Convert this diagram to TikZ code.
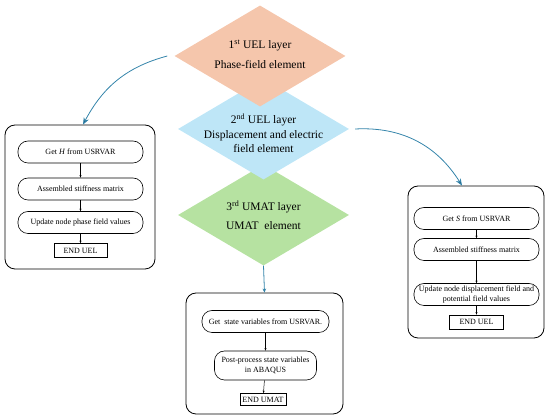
\documentclass[tikz,border=0pt]{standalone}
\usepackage{fontspec}
\setmainfont{Liberation Serif}
\usetikzlibrary{arrows.meta,positioning,shapes.geometric}
\definecolor{layerorange}{RGB}{245,198,172}
\definecolor{layerblue}{RGB}{190,230,247}
\definecolor{layergreen}{RGB}{182,226,161}
\definecolor{linkblue}{RGB}{52,132,170}
\definecolor{tipblue}{RGB}{22,84,124}
\newcommand{\bigtxt}{\fontsize{11.5}{14.5}\selectfont}
\newcommand{\smalltxt}{\fontsize{8}{9.5}\selectfont}

\begin{document}
\begin{tikzpicture}[x=1pt,y=-1pt,
    layer/.style={diamond,draw=none,minimum width=171pt,minimum height=101pt,inner sep=0pt},
    ltext/.style={align=center,font=\bigtxt,inner sep=0pt},
    frame/.style={rectangle,draw,rounded corners=10pt,line width=0.8pt},
    stage/.style={rectangle,draw,rounded corners=10pt,minimum width=125pt,minimum height=22pt,
      align=center,font=\smalltxt,inner sep=1pt,line width=0.6pt},
    stopbox/.style={rectangle,draw,minimum height=14pt,font=\smalltxt,inner sep=1pt,line width=0.7pt},
    a/.style={-{Stealth[length=2.5pt,width=2pt]},line width=0.5pt},
    link/.style={linkblue,line width=0.8pt,-{Stealth[length=7pt,width=5.5pt,fill=tipblue]}}]
    \useasboundingbox (0,0) rectangle (550,419);
    % the three layers (drawn bottom up so they overlap)
    \node[layer,fill=layergreen] (umat) at (263.5,215) {};
    \node[layer,fill=layerblue] (uelB) at (263.5,129) {};
    \node[layer,fill=layerorange] (uelA) at (260,56) {};
    \node[ltext] (uelAtxt) at (260,54) {1\textsuperscript{st} UEL layer\\[5pt] Phase-field element};
    \node[ltext] (uelBtxt) at (263.5,133.5) {2\textsuperscript{nd} UEL layer\\ Displacement and electric\\ field element};
    \node[ltext] (umattxt) at (263.5,215) {3\textsuperscript{rd} UMAT layer\\[4pt] UMAT~ element};
    % phase field block
    \node[frame,minimum width=150pt,minimum height=144pt] (phbox) at (80,197) {};
    \node[stage] (getH) at (80.5,152) {Get \textit{H} from USRVAR};
    \node[stage] (stiffA) at (80.5,189) {Assembled stiffness matrix};
    \node[stage] (updA) at (80.5,222.5) {Update node phase field values};
    \node[stopbox,minimum width=53pt] (endA) at (80.5,250.5) {END UEL};
    \draw[a](getH)--(stiffA); \draw[a](stiffA)--(updA); \draw[a](updA)--(endA);
    % displacement block
    \node[frame,minimum width=136pt,minimum height=152pt] (dsbox) at (476,262) {};
    \node[stage] (getS) at (476.5,218.5) {Get \textit{S} from USRVAR};
    \node[stage] (stiffB) at (476.5,249.5) {Assembled stiffness matrix};
    \node[stage] (updB) at (476.5,294.5) {Update node displacement field and\\ potential field values};
    \node[stopbox,minimum width=54pt] (endB) at (476.5,322) {END UEL};
    \draw[a](getS)--(stiffB); \draw[a](stiffB)--(updB); \draw[a](updB)--(endB);
    % state variable block
    \node[frame,minimum width=157pt,minimum height=121pt] (stbox) at (264.5,353.5) {};
    \node[stage,minimum width=127pt] (getSV) at (265.5,321.5) {Get~ state variables from USRVAR.};
    \node[stage,minimum width=102pt,minimum height=29pt] (post) at (265.5,365.5) {Post-process state variables\\ in ABAQUS};
    \node[stopbox,minimum width=46pt,minimum height=12pt] (endC) at (263,399.5) {END UMAT};
    \draw[a](getSV)--(post); \draw[a](post)--(endC);
    % links from the layers
    \draw[link] ([xshift=-7pt]uelA.west) to[out=195,in=62] ([xshift=3pt]phbox.north);
    \draw[link] ([xshift=6pt]uelB.east) to[out=3,in=122] ([xshift=-14pt]dsbox.north);
    \draw[link,-{Stealth[length=4pt,width=3.5pt,fill=tipblue]}] (umat.south) -- (stbox.north);
  \end{tikzpicture}
\end{document}
